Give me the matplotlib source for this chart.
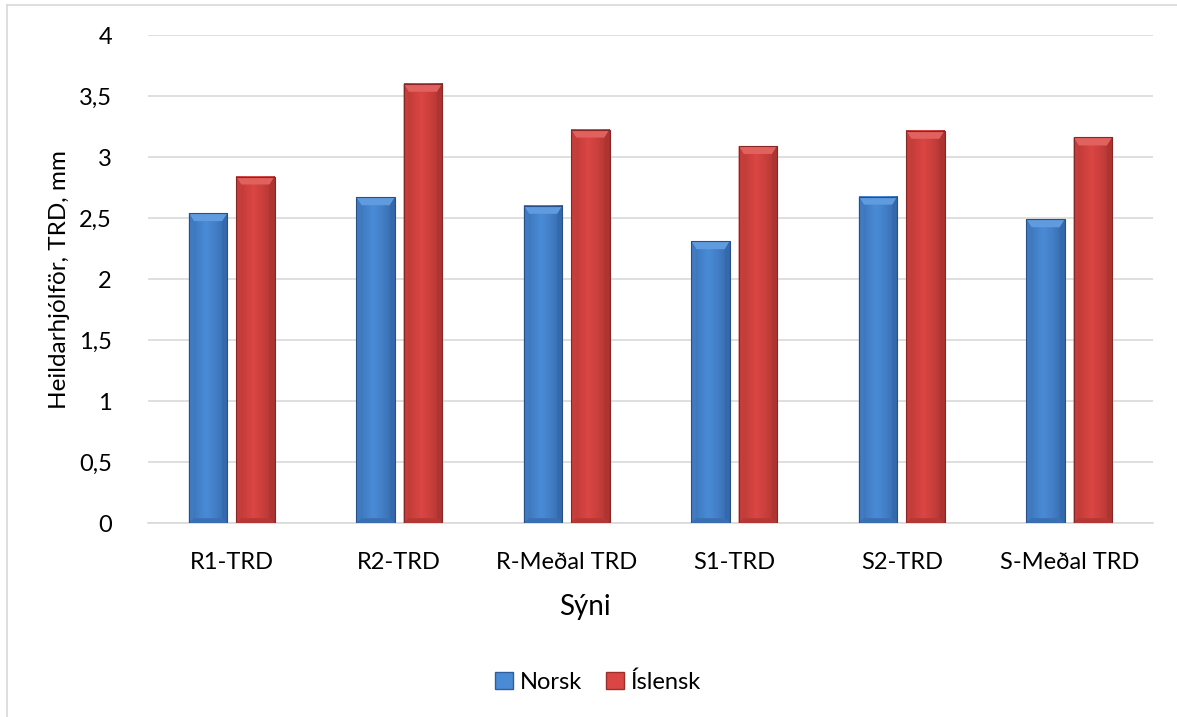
import numpy as np
import matplotlib
matplotlib.use("Agg")
import matplotlib.pyplot as plt
from matplotlib.patches import Polygon, Patch
from matplotlib.lines import Line2D
from matplotlib.colors import to_rgb

plt.rcParams['font.family'] = ['Lato', 'DejaVu Sans']

categories = ["R1-TRD", "R2-TRD", "R-Meðal TRD", "S1-TRD", "S2-TRD", "S-Meðal TRD"]
norsk = [2.54, 2.67, 2.60, 2.31, 2.675, 2.49]
islensk = [2.84, 3.60, 3.225, 3.09, 3.215, 3.16]
series_names = ["Norsk", "Íslensk"]
yticks = [0, 0.5, 1, 1.5, 2, 2.5, 3, 3.5, 4]
ytick_labels = ["0", "0,5", "1", "1,5", "2", "2,5", "3", "3,5", "4"]

colors = {
    "Norsk": ("#4A8BD6", "#2E5E9E", "#7FB2EA"),
    "Íslensk": ("#DA4643", "#9E2E2B", "#EC8A86"),
}

W, H = 1177, 717
fig = plt.figure(figsize=(W / 100, H / 100), dpi=100)
ax = fig.add_axes([148 / W, 1 - 523 / H, (1153 - 148) / W, (523 - 35) / H])

ax.set_xlim(-0.5, len(categories) - 0.5)
ax.set_ylim(0, 4)

bar_w = 0.23
offset = 0.141


def mix(c, other, t):
    a = np.array(to_rgb(c)); b = np.array(to_rgb(other))
    return tuple(a * (1 - t) + b * t)


def beveled_bar(x, h, name):
    mid, dark, light = colors[name]
    x0, x1 = x - bar_w / 2, x + bar_w / 2
    # horizontal shading across the bar face
    t = np.linspace(0, 1, 64)
    prof = 1 - np.abs(t - 0.45) / 0.55
    prof = np.clip(prof, 0, 1) ** 0.6
    c_dark = np.array(to_rgb(dark)); c_mid = np.array(to_rgb(mid))
    img = c_dark[None, :] * (1 - prof[:, None]) + c_mid[None, :] * prof[:, None]
    img = img[None, :, :]
    ax.imshow(img, extent=(x0, x1, 0, h), aspect='auto', zorder=3, interpolation='bilinear')
    sx = 0.03
    sy = 8 / 122
    # top bevel
    ax.add_patch(Polygon([(x0, h), (x1, h), (x1 - sx, h - sy), (x0 + sx, h - sy)],
                         closed=True, facecolor=mix(mid, light, 0.4), edgecolor='none', zorder=4))
    # side bevels
    ax.add_patch(Polygon([(x0, h), (x0 + sx, h - sy), (x0 + sx, sy * 0.6), (x0, 0)],
                         closed=True, facecolor=mix(mid, dark, 0.35), edgecolor='none', zorder=4))
    ax.add_patch(Polygon([(x1, h), (x1 - sx, h - sy), (x1 - sx, sy * 0.6), (x1, 0)],
                         closed=True, facecolor=mix(mid, dark, 0.75), edgecolor='none', zorder=4))
    # bottom bevel
    ax.add_patch(Polygon([(x0, 0), (x1, 0), (x1 - sx, sy * 0.6), (x0 + sx, sy * 0.6)],
                         closed=True, facecolor=mix(mid, dark, 0.6), edgecolor='none', zorder=4))
    ax.add_patch(Polygon([(x0, 0), (x1, 0), (x1, h), (x0, h)], closed=True,
                         facecolor='none', edgecolor=mix(dark, "black", 0.15), lw=0.8, zorder=5))


xs = np.arange(len(categories))
for i in xs:
    beveled_bar(i - offset, norsk[i], "Norsk")
    beveled_bar(i + offset, islensk[i], "Íslensk")

ax.set_yticks(yticks)
ax.set_yticklabels(ytick_labels, fontsize=17)
ax.set_xticks(xs)
ax.set_xticklabels(categories, fontsize=17)
ax.tick_params(axis='x', length=0, pad=21)
ax.tick_params(axis='y', length=0, pad=26)
ax.grid(axis='y', color='#D9D9D9', lw=1.2)
ax.set_axisbelow(True)
for s in ['top', 'right', 'left']:
    ax.spines[s].set_visible(False)
ax.spines['bottom'].set_color('#D9D9D9')
ax.spines['bottom'].set_linewidth(1.2)

fig.text(585 / W, 1 - 607 / H, "Sýni", fontsize=20, ha='center', va='center')
fig.text(60 / W, 1 - 280 / H, "Heildarhjólför, TRD, mm", fontsize=17.5,
         rotation=90, ha='center', va='center')

handles = [Patch(facecolor=colors[n][0], edgecolor=colors[n][1], label=n) for n in series_names]
fig.legend(handles=handles, loc='center', bbox_to_anchor=(598 / W, 1 - 682 / H), ncol=2,
           frameon=False, fontsize=17, handlelength=0.75, handleheight=0.75,
           handletextpad=0.3, columnspacing=1.0)

# chart area frame
fig.add_artist(Line2D([7 / W, 7 / W], [0, 1 - 4.5 / H], color='#D9D9D9', lw=1.2))
fig.add_artist(Line2D([7 / W, 1], [1 - 4.5 / H, 1 - 4.5 / H], color='#D9D9D9', lw=1.2))

fig.savefig("out.png", dpi=100)
